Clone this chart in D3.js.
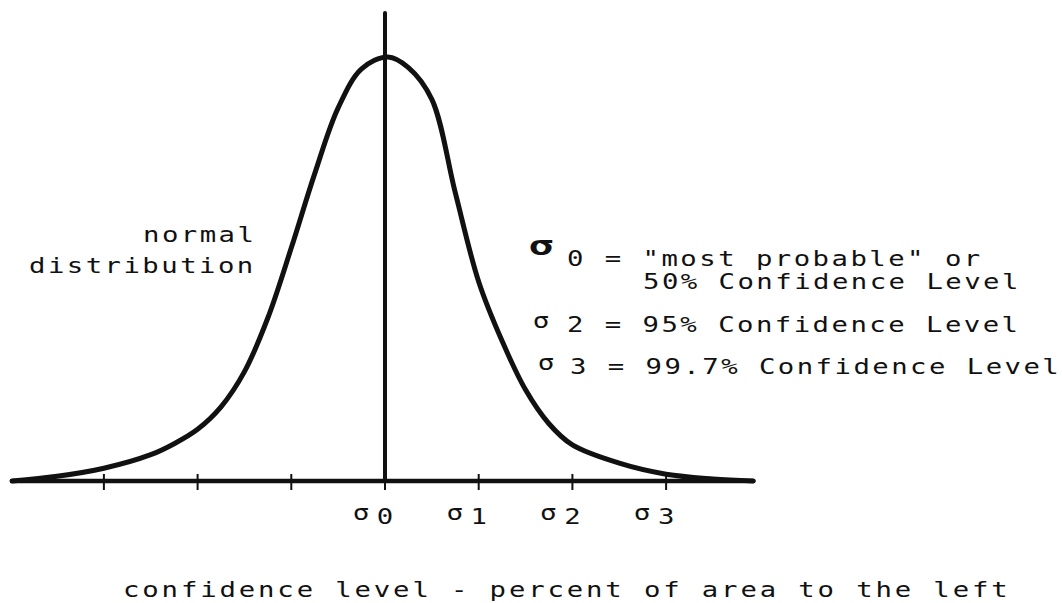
<!DOCTYPE html>
<html>
<head>
<meta charset="utf-8">
<script src="https://cdn.jsdelivr.net/npm/d3@7"></script>
<style>
  html, body { margin: 0; padding: 0; background: #fff; }
  svg { display: block; }
  text { font-family: "DejaVu Sans Mono", "Liberation Mono", monospace; fill: #111; }
</style>
</head>
<body>
<svg id="chart" width="1062" height="603"></svg>
<script>
// Bell curve traced in standard-deviation units (x) and height relative to the peak (y)
const curveX = [-3.98, -3.5, -3.0, -2.5, -2.25, -2.0, -1.75, -1.5, -1.25, -1.0, -0.75, -0.5, -0.25, 0.03,
                0.25, 0.5, 0.75, 1.0, 1.25, 1.5, 1.75, 2.0, 2.5, 3.0, 3.5, 3.93];
const curveY = [0.0, 0.011, 0.030, 0.062, 0.088, 0.122, 0.175, 0.258, 0.385, 0.550, 0.725, 0.880, 0.972, 1.0,
                0.975, 0.900, 0.680, 0.470, 0.330, 0.215, 0.135, 0.085, 0.042, 0.016, 0.005, 0.0];

// Axis tick positions and the labelled ones
const tickValues = [-3, -2, -1, 0, 1, 2, 3];
const labelValues = [0, 1, 2, 3];
const labelDigits = ["0", "1", "2", "3"];

// Annotation text
const curveLabel = ["normal", "distribution"];
const legendText = ["0 = \"most probable\" or", "50% Confidence Level", "2 = 95% Confidence Level", "3 = 99.7% Confidence Level"];
const legendSigma = ["σ", "", "σ", "σ"];
const axisTitle = "confidence level - percent of area to the left";

const svg = d3.select("#chart");
const unit = 93.7;
const cx = 385;
const x = d3.scaleLinear().domain([-4, 4]).range([cx - 4 * unit, cx + 4 * unit]);
const y = d3.scaleLinear().domain([0, 1]).range([481, 57]);

const ink = "#111";

// horizontal axis
svg.append("line")
  .attr("x1", x(-3.98)).attr("x2", x(3.93))
  .attr("y1", y(0)).attr("y2", y(0))
  .attr("stroke", ink).attr("stroke-width", 4.5).attr("stroke-linecap", "round");

// tick marks
svg.selectAll("line.tick").data(tickValues).join("line")
  .attr("class", "tick")
  .attr("x1", d => x(d)).attr("x2", d => x(d))
  .attr("y1", y(0) - 7).attr("y2", y(0) + 9)
  .attr("stroke", ink).attr("stroke-width", 2);

// vertical centre line
svg.append("line")
  .attr("x1", x(0)).attr("x2", x(0))
  .attr("y1", 13).attr("y2", y(0))
  .attr("stroke", ink).attr("stroke-width", 4).attr("stroke-linecap", "round");

// the curve
const pts = curveX.map((v, i) => [v, curveY[i]]);
const line = d3.line().x(d => x(d[0])).y(d => y(d[1])).curve(d3.curveCatmullRom.alpha(0.5));
svg.append("path")
  .attr("d", line(pts))
  .attr("fill", "none").attr("stroke", ink).attr("stroke-width", 5)
  .attr("stroke-linecap", "round").attr("stroke-linejoin", "round");

// wide plotter-style lettering: glyphs stretched horizontally, fixed pitch
const fs = 21, sx = 1.3;
function wideText(str, x0, y0, pitch, opts = {}) {
  const size = opts.size || fs;
  const ls = pitch / sx - size * 0.602;
  return svg.append("text")
    .attr("transform", `translate(${x0},${y0}) scale(${opts.sx || sx},1)`)
    .attr("font-size", size)
    .attr("font-weight", opts.weight || "normal")
    .attr("text-anchor", opts.anchor || "start")
    .attr("letter-spacing", opts.anchor === "middle" ? 0 : ls)
    .text(str);
}

// sigma tick labels
labelValues.forEach((v, i) => {
  wideText("σ", x(v) - 24, 520, 0, { anchor: "middle", size: 22, sx: 1.25 });
  wideText(labelDigits[i], x(v), 524, 0, { anchor: "middle" });
});

// curve label
const curveLabelX = [143, 29];
const curveLabelY = [242, 273];
curveLabel.forEach((t, i) => wideText(t, curveLabelX[i], curveLabelY[i], 18.9));

// legend
const legX = [567, 643, 567, 570];
const legY = [266, 289, 332, 374];
const sigX = [541, 0, 541, 546];
legendText.forEach((t, i) => {
  wideText(t, legX[i], legY[i], 18.9);
  if (legendSigma[i]) {
    if (i === 0) wideText(legendSigma[i], sigX[i], legY[i] - 11, 0, { anchor: "middle", size: 26, weight: "bold", sx: 1.6 });
    else wideText(legendSigma[i], sigX[i], legY[i] - 4, 0, { anchor: "middle", size: 22, sx: 1.25 });
  }
});

// axis title
wideText(axisTitle, 123, 597, 19.3);
</script>
</body>
</html>
